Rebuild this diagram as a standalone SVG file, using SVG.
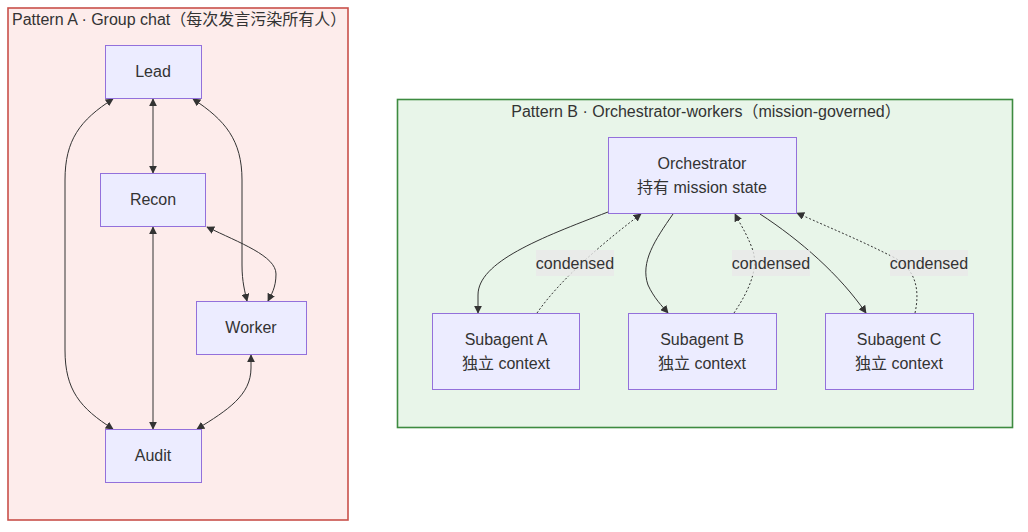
<svg xmlns="http://www.w3.org/2000/svg" width="1028" height="532" viewBox="0 0 1028 532">
<defs>
<style>
text{font-family:"Liberation Sans","Noto Sans CJK SC",Arial,sans-serif;font-size:16px;fill:#333;}
.node rect{fill:#ECECFF;stroke:#9370DB;stroke-width:1;}
.c{text-anchor:middle;}
.e{fill:none;stroke:#333;stroke-width:1;}
.d{stroke-dasharray:2,2;}
.lbl{fill:#e8e8e8;opacity:0.8;}
</style>
<marker id="ah" viewBox="0 0 10 10" refX="9" refY="5" markerWidth="8" markerHeight="8" orient="auto-start-reverse" markerUnits="userSpaceOnUse">
<path d="M0,0 L10,5 L0,10 z" fill="#333"/>
</marker>
</defs>
<rect width="1028" height="532" fill="#ffffff"/>
<g id="groupA">
<rect x="8" y="8" width="340" height="512" fill="#fdeceb" stroke="#c9504a" stroke-width="1.6"/>
<text x="12" y="25">Pattern A · Group chat（每次发言污染所有人）</text>
</g>
<g id="groupB">
<rect x="397.5" y="99.5" width="615" height="328" fill="#e8f5e9" stroke="#3d8b40" stroke-width="1.6"/>
<text x="706" y="117" class="c">Pattern B · Orchestrator-workers（mission-governed）</text>
</g>
<g id="connectors">
<path class="e" d="M153,99 L153,173" marker-start="url(#ah)" marker-end="url(#ah)"/>
<path class="e" d="M153,227 L153,429" marker-start="url(#ah)" marker-end="url(#ah)"/>
<path class="e" d="M113,99 C80,120 65,140 65,180 L65,350 C65,390 80,408 113,429" marker-start="url(#ah)" marker-end="url(#ah)"/>
<path class="e" d="M193,99 C225,120 242,140 242,180 L242,265 C242,282 245,292 247,301" marker-start="url(#ah)" marker-end="url(#ah)"/>
<path class="e" d="M207,227 C240,243 276,256 276,274 C276,288 271,295 268,301" marker-start="url(#ah)" marker-end="url(#ah)"/>
<path class="e" d="M251,355 L251,368 C251,395 228,410 197,429" marker-start="url(#ah)" marker-end="url(#ah)"/>
<path class="e" d="M608,212 C540,238 478,262 478,295 L478,313" marker-end="url(#ah)"/>
<path class="e d" d="M537,313 C560,280 600,245 641,214" marker-end="url(#ah)"/>
<path class="e" d="M673,214 C655,240 640,262 648,285 C654,298 662,306 668,313" marker-end="url(#ah)"/>
<path class="e d" d="M734,313 C748,292 760,268 752,248 C746,232 740,224 735,214" marker-end="url(#ah)"/>
<path class="e" d="M760,214 C800,240 840,275 866,313" marker-end="url(#ah)"/>
<path class="e d" d="M915,313 C920,290 916,270 895,258 C860,240 830,228 797,213" marker-end="url(#ah)"/>
<rect class="lbl" x="536" y="250" width="78" height="26"/>
<text x="575" y="269" class="c">condensed</text>
<rect class="lbl" x="732" y="250" width="78" height="26"/>
<text x="771" y="269" class="c">condensed</text>
<rect class="lbl" x="890" y="250" width="78" height="26"/>
<text x="929" y="269" class="c">condensed</text>
</g>
<g id="lead" class="node"><rect x="105.5" y="45.5" width="96" height="53"/><text x="153" y="77" class="c">Lead</text></g>
<g id="recon" class="node"><rect x="100.5" y="173.5" width="105" height="53"/><text x="153" y="205" class="c">Recon</text></g>
<g id="worker" class="node"><rect x="196.5" y="301.5" width="110" height="53"/><text x="251" y="333" class="c">Worker</text></g>
<g id="audit" class="node"><rect x="105.5" y="429.5" width="96" height="53"/><text x="153" y="461" class="c">Audit</text></g>
<g id="orchestrator" class="node"><rect x="608.5" y="137.5" width="188" height="76"/><text x="702" y="169" class="c">Orchestrator</text><text x="702" y="193" class="c">持有 mission state</text></g>
<g id="subA" class="node"><rect x="432.5" y="313.5" width="147" height="76"/><text x="506" y="345" class="c">Subagent A</text><text x="506" y="369" class="c">独立 context</text></g>
<g id="subB" class="node"><rect x="628.5" y="313.5" width="148" height="76"/><text x="702" y="345" class="c">Subagent B</text><text x="702" y="369" class="c">独立 context</text></g>
<g id="subC" class="node"><rect x="825.5" y="313.5" width="148" height="76"/><text x="899" y="345" class="c">Subagent C</text><text x="899" y="369" class="c">独立 context</text></g>
</svg>
